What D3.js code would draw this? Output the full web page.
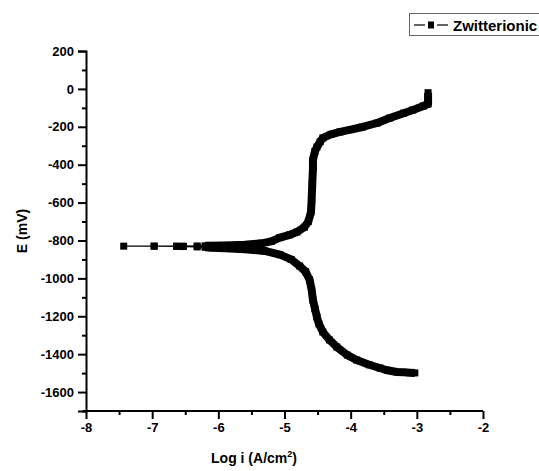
<!DOCTYPE html>
<html><head><meta charset="utf-8">
<script src="https://cdn.jsdelivr.net/npm/d3@7"></script>
<style>body{margin:0;background:#fff}svg{display:block}</style>
</head><body><svg id="c" width="539" height="471"></svg>
<script>
const seriesName = "Zwitterionic";
// Polarization curve: cathodic branch (from -1500 mV up to Ecorr) then anodic branch
const logI = [
  -3.03,-3.10,-3.20,-3.30,-3.45,-3.56,-3.72,-3.91,-4.05,-4.21,-4.32,-4.42,-4.48,-4.51,-4.54,-4.57,-4.59,-4.62,-4.68,-4.77,-4.90,-5.07,-5.30,-5.60,-5.90,-6.10,-6.20,-6.32,-6.53,-6.63,-6.97,-7.43,
  -6.97,-6.63,-6.53,-6.32,-6.20,-5.90,-5.60,-5.35,-5.20,-5.07,-4.92,-4.81,-4.70,-4.64,-4.60,-4.59,-4.58,-4.57,-4.57,-4.54,-4.51,-4.46,-4.42,-4.30,-4.16,-4.00,-3.82,-3.60,-3.41,-3.20,-3.06,-2.90,-2.83,-2.83,-2.83
];
const E = [
  -1499,-1498,-1496,-1494,-1485,-1473,-1456,-1431,-1405,-1362,-1325,-1283,-1240,-1204,-1160,-1114,-1060,-1008,-965,-935,-900,-875,-855,-846,-841,-838,-836,-834,-832,-831,-830,-830,
  -830,-830,-830,-829,-828,-826,-822,-815,-805,-785,-770,-755,-730,-700,-650,-586,-500,-420,-375,-330,-307,-278,-259,-240,-227,-215,-201,-180,-154,-128,-111,-90,-80,-50,-20
];
const xTicks = [-8,-7,-6,-5,-4,-3,-2];
const xMinor = [-7.5,-6.5,-5.5,-4.5,-3.5,-2.5];
const yTicks = [200,0,-200,-400,-600,-800,-1000,-1200,-1400,-1600];
const yMinor = [100,-100,-300,-500,-700,-900,-1100,-1300,-1500,-1700];

const svg = d3.select("#c");
const font = "'Liberation Sans', Arial, sans-serif";
const x = d3.scaleLinear().domain([-8,-2]).range([86,483]);
const y = d3.scaleLinear().domain([-1700,200]).range([411,51]);
const fmt = d => String(d);

// axes
const gx = svg.append("g").attr("transform","translate(0,411)")
  .call(d3.axisBottom(x).tickValues(xTicks).tickSize(8).tickPadding(4).tickFormat(fmt));
const gxm = svg.append("g").attr("transform","translate(0,411)")
  .call(d3.axisBottom(x).tickValues(xMinor).tickSize(4).tickFormat(""));
const gy = svg.append("g").attr("transform","translate(86,0)")
  .call(d3.axisLeft(y).tickValues(yTicks).tickSize(8).tickPadding(4).tickFormat(fmt));
const gym = svg.append("g").attr("transform","translate(86,0)")
  .call(d3.axisLeft(y).tickValues(yMinor).tickSize(4).tickFormat(""));
[gx,gxm,gy,gym].forEach(g=>{
  g.select(".domain").attr("stroke","#000").attr("stroke-width",2);
  g.selectAll(".tick line").attr("stroke","#000").attr("stroke-width",2);
  g.selectAll(".tick text").attr("fill","#000").attr("font-family",font)
    .attr("font-weight","bold").attr("font-size",13);
});
gym.select(".domain").remove(); gxm.select(".domain").remove();
gx.select(".domain").attr("d", `M${x(-8)-3},0H${x(-2)}`);

// axis titles
svg.append("text").attr("x",254).attr("y",463).attr("text-anchor","middle")
  .attr("font-family",font).attr("font-weight","bold").attr("font-size",14)
  .html('Log i (A/cm<tspan dy="-6" font-size="9">2</tspan><tspan dy="6">)</tspan>');
svg.append("text").attr("transform","translate(27,231) rotate(-90)").attr("text-anchor","middle")
  .attr("font-family",font).attr("font-weight","bold").attr("font-size",14).text("E (mV)");

// data
const pts = logI.map((v,i)=>[v,E[i]]);
const line = d3.line().x(d=>x(d[0])).y(d=>y(d[1]));
svg.append("path").attr("d",line(pts)).attr("fill","none").attr("stroke","#000").attr("stroke-width",1.2);
// dense-marker region drawn as thick band
const cath = pts.slice(0,27), anod = pts.slice(36);
[cath,anod].forEach(seg=>{
  svg.append("path").attr("d",line(seg)).attr("fill","none").attr("stroke","#000")
    .attr("stroke-width",8).attr("stroke-linejoin","round");
});
svg.selectAll("rect.m").data(pts).enter().append("rect").attr("class","m")
  .attr("x",d=>x(d[0])-3.5).attr("y",d=>y(d[1])-3.5).attr("width",7).attr("height",7).attr("fill","#000");

// legend
const lg = svg.append("g");
lg.append("rect").attr("x",409.5).attr("y",13.5).attr("width",140).attr("height",22)
  .attr("fill","#fff").attr("stroke","#666").attr("stroke-width",1);
lg.append("line").attr("x1",414).attr("x2",425).attr("y1",25).attr("y2",25).attr("stroke","#000").attr("stroke-width",1.2);
lg.append("line").attr("x1",437).attr("x2",448).attr("y1",25).attr("y2",25).attr("stroke","#000").attr("stroke-width",1.2);
lg.append("rect").attr("x",428).attr("y",21.5).attr("width",6).attr("height",7).attr("fill","#000");
lg.append("text").attr("x",453).attr("y",30.5).attr("font-family",font).attr("font-weight","bold")
  .attr("font-size",15).text(seriesName);
</script></body></html>
